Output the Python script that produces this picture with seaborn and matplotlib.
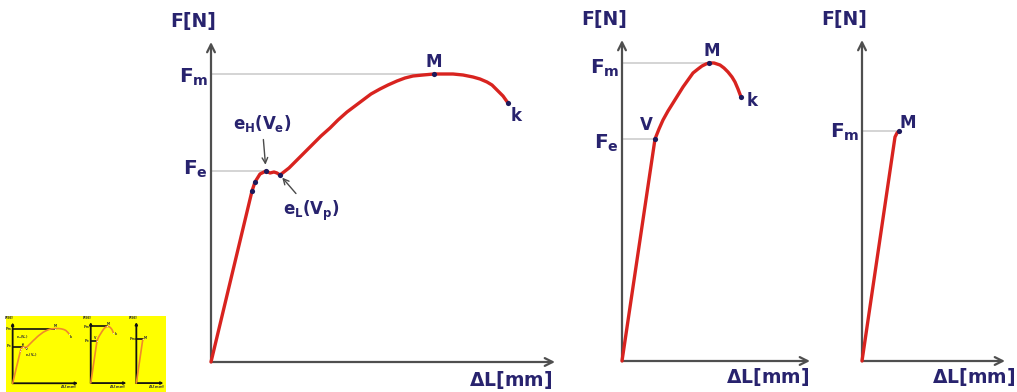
import numpy as np
import matplotlib
matplotlib.use("Agg")
import matplotlib.pyplot as plt
from matplotlib.patches import Rectangle
import seaborn as sns

# ---- data (arbitrary units: elongation dL, force F) ----
# 1) ductile steel with a distinct yield point
dl_1 = [0, 41, 44, 49, 55, 59, 63, 66, 69, 78, 86, 94, 102, 110, 119, 127, 136, 144, 152, 160, 169,
        177, 186, 194, 202, 212, 223, 232, 242, 252, 262, 269, 276, 281, 286, 292, 297]
f_1 = [0, 171, 180, 188, 191, 189, 190, 189, 187, 194, 202, 210, 218, 226, 234, 242, 250, 256, 262, 268, 273,
       277, 281, 284, 286, 287, 288, 288, 288, 287, 285, 283, 280, 277, 272, 266, 259]
dots_dl_1 = [41, 44, 55, 69, 223, 297]
dots_f_1 = [171, 180, 191, 187, 288, 259]
fm_1, fe_1 = 288, 191
m_1, k_1 = (223, 288), (297, 259)
eh_1, el_1 = (55, 191), (69, 187)

# 2) material without a distinct yield point
dl_2 = [0, 33, 37, 41, 46, 51, 56, 61, 66, 71, 76, 80, 84, 87, 92, 98, 102, 106, 110, 113, 116, 119]
f_2 = [0, 222, 232, 241, 250, 258, 266, 274, 281, 288, 292, 295, 297, 298, 298, 296, 293, 289, 284, 279, 272, 264]
dots_dl_2 = [33, 87, 119]
dots_f_2 = [222, 298, 264]
fm_2, fe_2 = 298, 222
m_2, k_2, v_2 = (87, 298), (119, 264), (33, 222)

# 3) brittle material
dl_3 = [0, 33, 35, 37]
f_3 = [0, 224, 228, 230]
dots_dl_3 = [37]
dots_f_3 = [230]
fm_3 = 230
m_3 = (37, 230)

W, H, DPI = 1017, 392, 100

sns.set_style("white")
plt.rcParams["font.family"] = ["DejaVu Sans"]
plt.rcParams["mathtext.fontset"] = "custom"
plt.rcParams["mathtext.rm"] = "DejaVu Sans:bold"
plt.rcParams["mathtext.it"] = "DejaVu Sans:bold"
plt.rcParams["mathtext.bf"] = "DejaVu Sans:bold"

fig = plt.figure(figsize=(W / DPI, H / DPI), dpi=DPI)
fig.patch.set_facecolor("white")

# panel frames in pixels: left, top, right, bottom (origin at bottom-left corner of the frame)
frames = [(211, 42, 555, 362), (622, 40, 810, 361), (862, 40, 1005, 361)]

MAIN = dict(s=1.0, curve="#d8231f", ref="#c9c9c9", axis="#4f4f4f", text="#28236e",
            dot="#1c1a5c", arrow="#4a4a4a", axis_lw=1.6, ref_lw=1.1, curve_lw=2.4, head=14)
THUMB = dict(s=0.19, curve="#f0892a", ref="#111111", axis="#111111", text="#333333",
             dot="#555555", arrow="#222222", axis_lw=1.3, ref_lw=1.2, curve_lw=1.2, head=3)


def px2pt(v, s):
    return v * s * 72.0 / DPI


def make_ax(frame, tmap=None):
    L, T, R, B = frame
    if tmap is not None:
        L, T, R, B = tmap(L, T, R, B)
    ax = fig.add_axes([L / W, (H - B) / H, (R - L) / W, (B - T) / H])
    ax.set_xlim(0, frame[2] - frame[0])
    ax.set_ylim(0, frame[3] - frame[1])
    ax.patch.set_alpha(0)
    for sp in ax.spines.values():
        sp.set_visible(False)
    ax.set_xticks([])
    ax.set_yticks([])
    return ax


def label(ax, st, txt, xy, dx, dy, fs, ha="center", va="center", coords="data"):
    ax.annotate(txt, xy=xy, xycoords=coords, xytext=(px2pt(dx, st["s"]), px2pt(dy, st["s"])),
                textcoords="offset points", ha=ha, va=va, fontsize=fs * st["s"],
                color=st["text"], fontweight="bold", annotation_clip=False)


def draw_panel(ax, st, dl, f, ddl, df, refs, marks, fm_labels):
    s = st["s"]
    # axes with arrow heads
    for end in [(1, 0), (0, 1)]:
        ax.annotate("", xy=end, xytext=(0, 0), xycoords="axes fraction",
                    arrowprops=dict(arrowstyle="->", color=st["axis"], lw=st["axis_lw"],
                                    shrinkA=0, shrinkB=0, mutation_scale=st["head"]),
                    annotation_clip=False)
    # reference lines
    for (fy, xend) in refs:
        ax.plot([0, xend], [fy, fy], color=st["ref"], lw=st["ref_lw"], zorder=1, clip_on=False)
    sns.lineplot(x=dl, y=f, ax=ax, sort=False, estimator=None, color=st["curve"],
                 lw=st["curve_lw"], zorder=3, clip_on=False, solid_joinstyle="round",
                 solid_capstyle="round")
    sns.scatterplot(x=ddl, y=df, ax=ax, color=st["dot"], s=14 * s * s, linewidth=0,
                    zorder=4, clip_on=False)
    for txt, xy, dx, dy, ha in marks:
        label(ax, st, txt, xy, dx, dy, 12, ha=ha)
    for txt, fy, dy in fm_labels:
        label(ax, st, txt, (0, fy), -3, dy, 14.5, ha="right")
    label(ax, st, "F[N]", (0, 1), -18, 21, 13.5, coords="axes fraction")


def draw_all(st, tmap=None):
    s = st["s"]
    ax1 = make_ax(frames[0], tmap)
    draw_panel(ax1, st, dl_1, f_1, dots_dl_1, dots_f_1,
               [(fm_1, m_1[0]), (fe_1, eh_1[0])],
               [("M", m_1, 0, 12, "center"), ("k", k_1, 8, -13, "center")],
               [(r"$F_m$", fm_1, -3), (r"$F_e$", fe_1, 2)])
    label(ax1, st, r"$\Delta$L[mm]", (1, 0), -3, -18, 13.5, ha="right", coords="axes fraction")
    for txt, pt, off, shb in [(r"$e_H(V_e)$", eh_1, (-4, 48), 4.5), (r"$e_L(V_p)$", el_1, (31, -36), 2.5)]:
        ax1.annotate(txt, xy=pt, xytext=(px2pt(off[0], s), px2pt(off[1], s)), textcoords="offset points",
                     ha="center", va="center", fontsize=12 * s, color=st["text"], fontweight="bold",
                     annotation_clip=False,
                     arrowprops=dict(arrowstyle="->", color=st["arrow"], lw=max(1.0 * s, 0.6),
                                     shrinkA=2 * s, shrinkB=shb * s, mutation_scale=10 * s))

    ax2 = make_ax(frames[1], tmap)
    draw_panel(ax2, st, dl_2, f_2, dots_dl_2, dots_f_2,
               [(fm_2, m_2[0]), (fe_2, v_2[0])],
               [("M", m_2, 3, 12, "center"), ("k", k_2, 11, -4, "center"), ("V", v_2, -9, 14, "center")],
               [(r"$F_m$", fm_2, -5), (r"$F_e$", fe_2, -4)])
    label(ax2, st, r"$\Delta$L[mm]", (1, 0), -1, -16, 13.5, ha="right", coords="axes fraction")

    ax3 = make_ax(frames[2], tmap)
    draw_panel(ax3, st, dl_3, f_3, dots_dl_3, dots_f_3,
               [(fm_3, m_3[0])],
               [("M", m_3, 9, 8, "center")],
               [(r"$F_m$", fm_3, -1)])
    label(ax3, st, r"$\Delta$L[mm]", (1, 0), 10, -16, 13.5, ha="right", coords="axes fraction")


draw_all(MAIN)

# small yellow overview of the three diagrams in the lower-left corner
TX0, TY0, TS = 6, 316, 0.19
fig.patches.append(Rectangle((TX0 / W, 0), 160 / W, 76 / H, transform=fig.transFigure,
                             facecolor="#ffff00", edgecolor="none", zorder=-1))


def tmap(L, T, R, B):
    fx = lambda x: TX0 + (x - 176) * TS
    fy = lambda y: TY0 + (y - 8) * TS
    return fx(L), fy(T), fx(R), fy(B)


draw_all(THUMB, tmap)

fig.savefig("out.png", dpi=DPI)
